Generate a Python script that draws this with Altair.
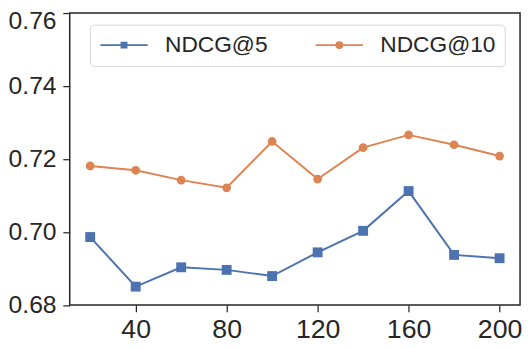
import altair as alt
import pandas as pd

k_values = [20, 40, 60, 80, 100, 120, 140, 160, 180, 200]
ndcg5 = [0.6986, 0.6850, 0.6903, 0.6896, 0.6879, 0.6944, 0.7003, 0.7112, 0.6937, 0.6928]
ndcg10 = [0.7181, 0.7169, 0.7142, 0.7121, 0.7248, 0.7145, 0.7231, 0.7266, 0.7239, 0.7208]
series = ["NDCG@5", "NDCG@10"]
colors = ["#4C72B0", "#DD8452"]
shapes = ["square", "circle"]
marker_sizes = [100, 78]
x_ticks = [40, 80, 120, 160, 200]
y_ticks = [0.68, 0.70, 0.72, 0.74, 0.76]

rows = []
for k, a, b in zip(k_values, ndcg5, ndcg10):
    for i, v in enumerate((a, b)):
        rows.append({"k": k, "series": series[i], "value": v,
                     "lcolor": colors[i], "marker": shapes[i], "msize": marker_sizes[i]})
df = pd.DataFrame(rows)

FONT = "Liberation Sans"
INK = "#262626"

P_SQ = "M-2.4,0H2.4M-0.25,-0.25H0.25V0.25H-0.25Z"
P_CI = "M-2.4,0H2.4M0.3,0A0.3,0.3,0,1,1,-0.3,0A0.3,0.3,0,1,1,0.3,0Z"

legend = alt.Legend(
    title=None,
    orient="none",
    legendX=20.5,
    legendY=11.7,
    direction="horizontal",
    columns=2,
    symbolSize=400,
    symbolOffset=14,
    labelOffset=30,
    columnPadding=44,
    labelFont=FONT,
    labelFontSize=23,
    labelColor=INK,
    padding=9,
    strokeColor="#d6d6d6",
    fillColor="white",
    cornerRadius=4,
    symbolStrokeWidth=2,
    symbolOpacity=1,
    symbolType={"expr": f"datum.value === '{series[0]}' ? '{P_SQ}' : '{P_CI}'"},
    symbolStrokeColor={"expr": "scale('color', datum.value)"},
)

x_enc = alt.X(
    "k:Q",
    scale=alt.Scale(domain=[11, 209], nice=False, zero=False),
    axis=alt.Axis(values=x_ticks, title=None, grid=False, domain=False, tickSize=7,
                  tickWidth=1.25, tickColor=INK, labelFontSize=27, labelFont=FONT,
                  labelColor=INK, labelPadding=5, format="d", labelFlush=False),
)
y_enc = alt.Y(
    "value:Q",
    scale=alt.Scale(domain=[0.68, 0.76], nice=False, zero=False),
    axis=alt.Axis(values=y_ticks, title=None, grid=False, domain=False, tickSize=7,
                  tickWidth=1.25, tickColor=INK, labelFontSize=25, labelFont=FONT,
                  labelColor=INK, labelPadding=6.8, format=".2f",
                  labelOffset={"expr": "datum.value > 0.755 ? 8 : 0"}),
)

lines = alt.Chart(df).mark_line(strokeWidth=2).encode(
    x=x_enc, y=y_enc,
    stroke=alt.Stroke("lcolor:N", scale=None),
    detail="series:N",
)
points = alt.Chart(df).mark_point(filled=True, opacity=1).encode(
    x=x_enc, y=y_enc,
    color=alt.Color("series:N", scale=alt.Scale(domain=series, range=colors), sort=series, legend=legend),
    shape=alt.Shape("marker:N", scale=None),
    size=alt.Size("msize:Q", scale=None),
)

chart = alt.layer(lines, points).properties(
    width=456, height=295.5,
    autosize=alt.AutoSizeParams(type="none"),
    padding={"left": 62.5, "top": 3, "right": 4, "bottom": 40},
).configure(background="white").configure_view(stroke=INK, strokeWidth=1.5)

chart.save("out.html", embed_options={"renderer": "svg", "actions": False})
